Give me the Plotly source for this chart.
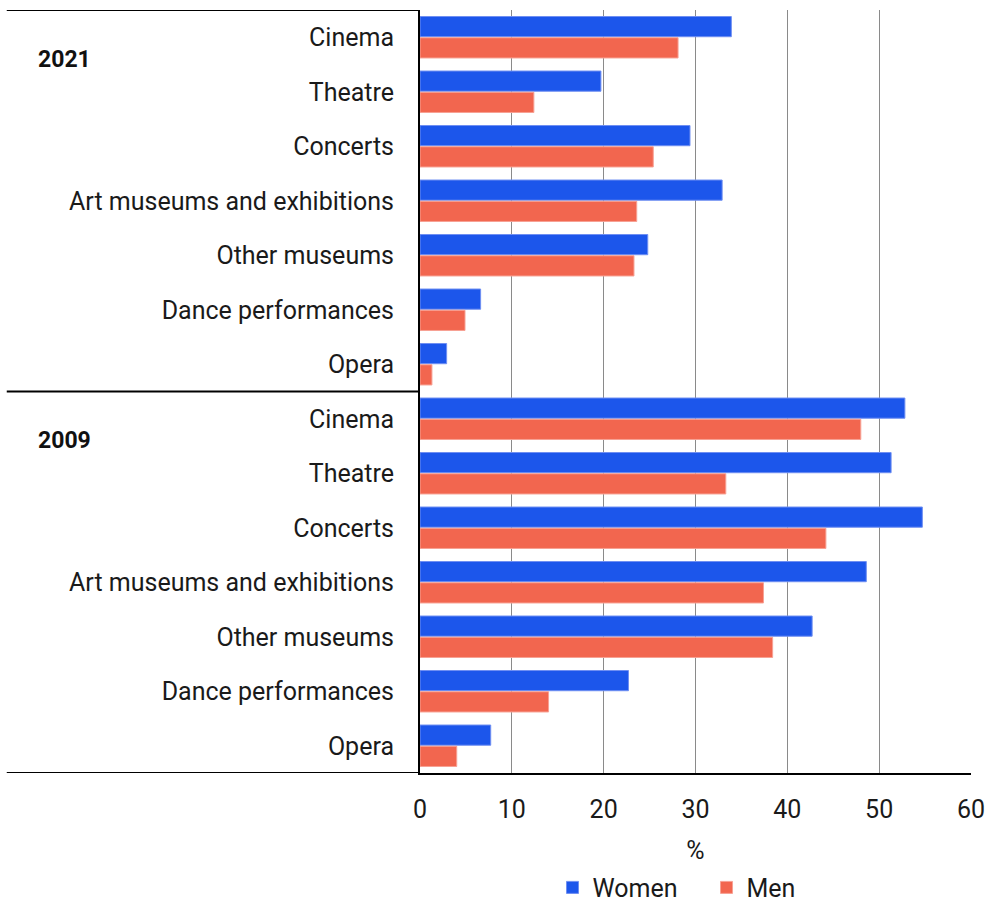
import plotly.graph_objects as go

# Activity categories (top to bottom within each year block)
activities = ["Cinema", "Theatre", "Concerts", "Art museums and exhibitions",
              "Other museums", "Dance performances", "Opera"]
years = ["2021", "2009"]

# Share attending (%) by sex
women_2021 = [33.9, 19.7, 29.4, 32.9, 24.8, 6.6, 2.9]
men_2021 = [28.1, 12.4, 25.4, 23.6, 23.3, 4.9, 1.3]
women_2009 = [52.8, 51.3, 54.7, 48.6, 42.7, 22.7, 7.7]
men_2009 = [48.0, 33.3, 44.2, 37.4, 38.4, 14.0, 4.0]

x_ticks = [0, 10, 20, 30, 40, 50, 60]

BLUE = "#1c56eb"
RED = "#f2664f"
FONT = "Roboto"
FS = 25

n = len(activities)
positions = list(range(2 * n))
labels = activities + activities
women = women_2021 + women_2009
men = men_2021 + men_2009

fig = go.Figure()
fig.add_trace(go.Bar(
    y=positions, x=women, orientation="h", name="Women",
    marker=dict(color=BLUE, line=dict(color="#6f8ff2", width=1)),
))
fig.add_trace(go.Bar(
    y=positions, x=men, orientation="h", name="Men",
    marker=dict(color=RED, line=dict(color="#f7a194", width=1)),
))

# Separator lines between the year blocks, extended into the label area
for yv in [-0.5, n - 0.5, 2 * n - 0.5]:
    fig.add_shape(type="line", xref="paper", yref="y",
                  x0=-0.75, x1=0, y0=yv, y1=yv,
                  line=dict(color="black", width=2))

# Year labels
for i, yr in enumerate(years):
    fig.add_annotation(text="<b>" + yr + "</b>", xref="paper", yref="y",
                       x=-0.697, y=i * n + 0.4, xanchor="left", yanchor="middle",
                       showarrow=False, font=dict(family=FONT, size=23, color="#111111"))

fig.update_layout(
    width=994, height=903,
    margin=dict(l=420, r=23, t=10, b=130, autoexpand=False),
    plot_bgcolor="white", paper_bgcolor="white",
    barmode="group", bargap=0.22, bargroupgap=0.05,
    font=dict(family=FONT, size=FS, color="#1a1a1a"),
    showlegend=True,
    legend=dict(orientation="h", x=0.52, xanchor="center",
                yref="container", y=0.017, yanchor="middle",
                font=dict(family=FONT, size=FS), itemwidth=30, entrywidth=109,
                traceorder="normal"),
    xaxis=dict(range=[0, 60], tickvals=x_ticks, showgrid=True, gridcolor="#8a8a8a",
               gridwidth=1, zeroline=False, showline=True, linecolor="black",
               linewidth=2, ticks="", ticklabelstandoff=13, automargin=False,
               tickfont=dict(size=FS),
               title=dict(text="%", standoff=33, font=dict(size=FS))),
    yaxis=dict(range=[2 * n - 0.5, -0.5], tickvals=positions, ticktext=labels,
               showgrid=False, zeroline=False, showline=True, linecolor="black",
               linewidth=2, ticks="", ticklabelstandoff=19, automargin=False,
               tickfont=dict(size=FS)),
)

fig.write_html("out.html")
